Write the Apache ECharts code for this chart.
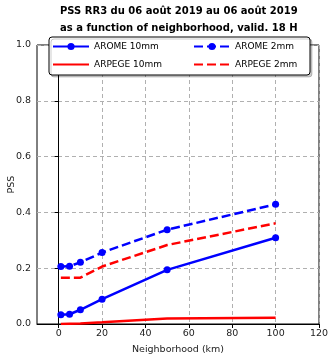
<!DOCTYPE html>
<html>
<head>
<meta charset="utf-8">
<script src="https://cdn.jsdelivr.net/npm/echarts@6/dist/echarts.min.js"></script>
<style>
  html, body { margin: 0; padding: 0; background: #fff; }
  #main { width: 328px; height: 356px; }
</style>
</head>
<body>
<div id="main"></div>
<script>
// neighborhood radius (km)
const neighborhoods = [1, 5, 10, 20, 50, 100];
const xTicks = [0, 20, 40, 60, 80, 100, 120];

const aromeTen = [0.033, 0.035, 0.051, 0.089, 0.194, 0.309];
const aromeTwo = [0.206, 0.207, 0.221, 0.256, 0.338, 0.429];
const arpegeTen = [0.000, 0.001, 0.002, 0.006, 0.020, 0.022];
const arpegeTwo = [0.166, 0.166, 0.166, 0.206, 0.283, 0.361];

const toPairs = (vals) => vals.map((v, i) => [neighborhoods[i], v]);

const chart = echarts.init(document.getElementById('main'));
const font = 'DejaVu Sans';

const lineSeries = (name, vals, color, dashed, markers) => ({
  name: name,
  type: 'line',
  data: toPairs(vals),
  symbol: markers ? 'circle' : 'none',
  symbolSize: 7,
  showSymbol: markers,
  itemStyle: { color: color },
  lineStyle: { color: color, width: 2.5, type: dashed ? [9, 4] : 'solid' },
  animation: false,
  z: 3
});

const legendText = { fontFamily: font, fontSize: 9, color: '#000' };
// ARPEGE entries have no marker in the legend
const noMarker = (name) => ({ name: name, itemStyle: { opacity: 0 } });
const titleStyle = { fontFamily: font, fontSize: 10, fontWeight: 'bold', color: '#000' };

const option = {
  animation: false,
  textStyle: { fontFamily: font },
  title: [
    { text: 'PSS RR3 du 06 août 2019 au 06 août 2019', left: 60, top: 6, padding: 0, textStyle: titleStyle },
    { text: 'as a function of neighborhood, valid. 18 H', left: 60, top: 23, padding: 0, textStyle: titleStyle }
  ],
  graphic: [{
    type: 'rect',
    shape: { x: 49, y: 37, width: 261, height: 38, r: 3 },
    style: { fill: '#fff', stroke: '#000', lineWidth: 1, shadowColor: 'rgba(0,0,0,0.2)', shadowOffsetX: 2, shadowOffsetY: 2 },
    z: 50
  }],
  legend: [
    { data: ['AROME 10mm', noMarker('ARPEGE 10mm')], orient: 'vertical', left: 52, top: 42, padding: 0, itemWidth: 36, itemHeight: 9, itemGap: 9, textStyle: legendText, z: 60, selectedMode: false },
    { data: ['AROME 2mm', noMarker('ARPEGE 2mm')], orient: 'vertical', left: 193, top: 42, padding: 0, itemWidth: 36, itemHeight: 9, itemGap: 9, textStyle: legendText, z: 60, selectedMode: false }
  ],
  grid: { left: 37, right: 9, top: 45, bottom: 32, show: true, borderColor: '#000', borderWidth: 1, containLabel: false, outerBoundsMode: 'none' },
  xAxis: {
    type: 'value',
    min: -10,
    max: 120,
    name: 'Neighborhood (km)',
    nameLocation: 'middle',
    nameGap: 21,
    nameTextStyle: { fontFamily: font, fontSize: 9.5, color: '#222' },
    axisLine: { show: true, onZero: false, lineStyle: { color: '#000' } },
    axisTick: { show: true, length: 4, customValues: xTicks, lineStyle: { color: '#000' } },
    axisLabel: { customValues: xTicks, fontFamily: font, fontSize: 9.5, color: '#222', margin: 5 },
    splitLine: { show: true, lineStyle: { color: '#b0b0b0', type: [4, 3], width: 1 } }
  },
  yAxis: {
    type: 'value',
    min: 0,
    max: 1,
    interval: 0.2,
    name: 'PSS',
    nameLocation: 'middle',
    nameGap: 20,
    nameMoveOverlap: false,
    nameTextStyle: { fontFamily: font, fontSize: 9.5, color: '#222' },
    axisLine: { show: true, lineStyle: { color: '#000' } },
    axisTick: { show: true, length: 4, lineStyle: { color: '#000' } },
    axisLabel: { fontFamily: font, fontSize: 9.5, color: '#222', margin: 6, formatter: (v) => v.toFixed(1) },
    splitLine: { show: true, lineStyle: { color: '#b0b0b0', type: [4, 3], width: 1 } }
  },
  series: [
    lineSeries('AROME 10mm', aromeTen, '#0000ff', false, true),
    lineSeries('AROME 2mm', aromeTwo, '#0000ff', true, true),
    lineSeries('ARPEGE 10mm', arpegeTen, '#ff0000', false, false),
    lineSeries('ARPEGE 2mm', arpegeTwo, '#ff0000', true, false)
  ]
};

chart.setOption(option);
</script>
</body>
</html>
